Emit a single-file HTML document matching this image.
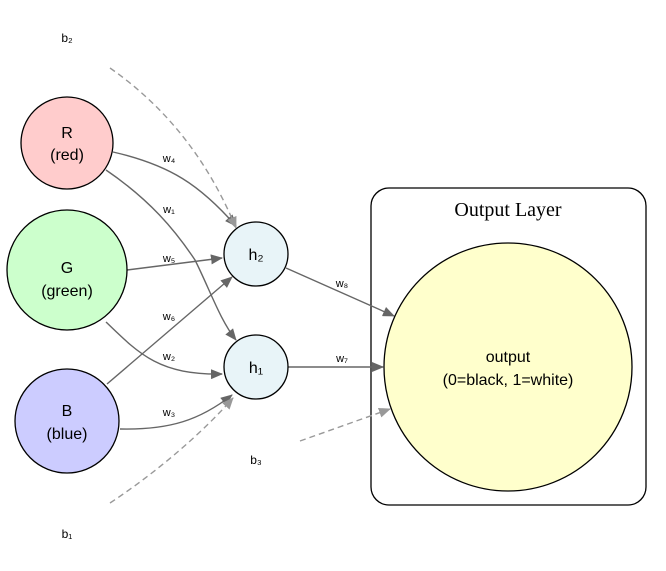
<!DOCTYPE html>
<html><head><meta charset="utf-8"><style>
html,body{margin:0;padding:0;background:#fff;}
svg{display:block;font-family:"Liberation Sans",sans-serif;}
</style></head><body>
<svg width="666" height="571" viewBox="0 0 666 571" xmlns="http://www.w3.org/2000/svg">
<defs>
<marker id="a" markerWidth="12" markerHeight="10" refX="11" refY="5" orient="auto" markerUnits="userSpaceOnUse"><path d="M0,0 L12,5 L0,10 z" fill="#666"/></marker>
<marker id="b" markerWidth="12" markerHeight="10" refX="11" refY="5" orient="auto" markerUnits="userSpaceOnUse"><path d="M0,0 L12,5 L0,10 z" fill="#999"/></marker>
</defs>
<rect x="371" y="188" width="275" height="317" rx="18" fill="#fff" stroke="#000" stroke-width="1.3"/>
<text x="508" y="216" text-anchor="middle" font-family="Liberation Serif,serif" font-size="20">Output Layer</text>
<g fill="none" stroke="#666" stroke-width="1.4">
<path d="M113,152 C170,165 200,185 236,226" marker-end="url(#a)"/>
<path d="M106,170 C150,200 175,230 195,260 C210,290 220,320 236,340" marker-end="url(#a)"/>
<path d="M127,270 L222,258" marker-end="url(#a)"/>
<path d="M106,322 C140,355 160,375 222,374" marker-end="url(#a)"/>
<path d="M107,384 L232,277" marker-end="url(#a)"/>
<path d="M120,429 C170,430 200,420 232,395" marker-end="url(#a)"/>
<path d="M286,268 L394,316" marker-end="url(#a)"/>
<path d="M288,367 L383,367" marker-end="url(#a)"/>
</g>
<g fill="none" stroke="#999" stroke-width="1.4" stroke-dasharray="6,4">
<path d="M110,68 C170,110 210,165 236,228" marker-end="url(#b)"/>
<path d="M110,503 C160,470 205,430 233,398" marker-end="url(#b)"/>
<path d="M300,441 L390,409" marker-end="url(#b)"/>
</g>
<circle cx="67" cy="143" r="46" fill="#ffcccc" stroke="#000" stroke-width="1.3"/>
<circle cx="67" cy="270" r="60" fill="#ccffcc" stroke="#000" stroke-width="1.3"/>
<circle cx="67" cy="421" r="52" fill="#ccccff" stroke="#000" stroke-width="1.3"/>
<circle cx="256" cy="254" r="32" fill="#e8f4f8" stroke="#000" stroke-width="1.3"/>
<circle cx="256" cy="367" r="32" fill="#e8f4f8" stroke="#000" stroke-width="1.3"/>
<circle cx="508" cy="367" r="124" fill="#ffffcc" stroke="#000" stroke-width="1.3"/>
<g font-size="16" text-anchor="middle" fill="#000">
<text x="67" y="138">R</text><text x="67" y="160">(red)</text>
<text x="67" y="273">G</text><text x="67" y="296">(green)</text>
<text x="67" y="416">B</text><text x="67" y="439">(blue)</text>
<text x="256" y="260">h₂</text>
<text x="256" y="373">h₁</text>
<text x="508" y="362">output</text>
<text x="508" y="385">(0=black, 1=white)</text>
</g>
<g font-size="12" text-anchor="middle" fill="#000">
<text x="67" y="42">b₂</text>
<text x="67" y="538">b₁</text>
<text x="256" y="464">b₃</text>
</g>
<g font-size="11" text-anchor="middle" fill="#000">
<text x="169" y="162">w₄</text>
<text x="169" y="213">w₁</text>
<text x="169" y="262">w₅</text>
<text x="169" y="320">w₆</text>
<text x="169" y="360">w₂</text>
<text x="169" y="416">w₃</text>
<text x="342" y="287">w₈</text>
<text x="342" y="362">w₇</text>
</g>
</svg>
</body></html>
